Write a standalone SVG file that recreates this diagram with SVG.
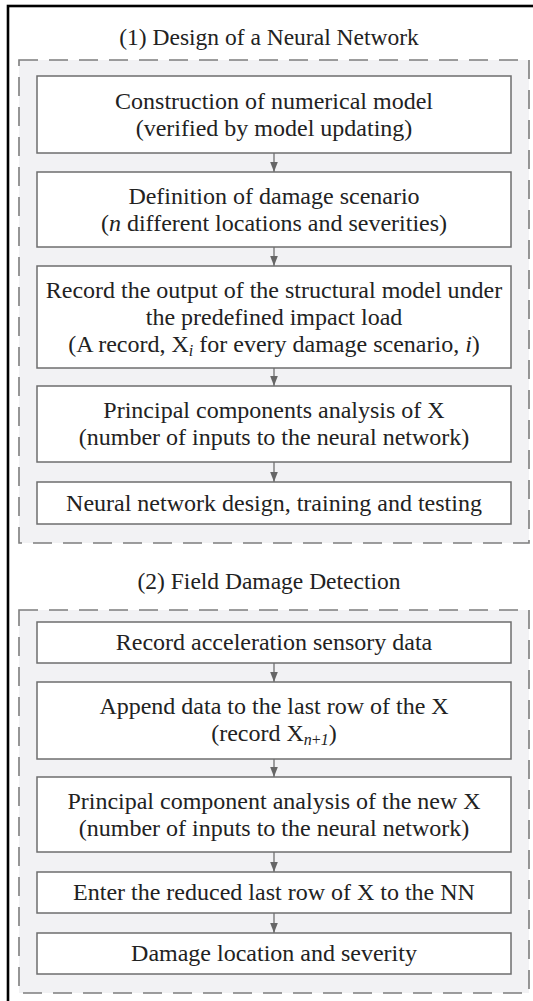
<svg xmlns="http://www.w3.org/2000/svg" width="533" height="1001" viewBox="0 0 533 1001">
<style>
.t{font-family:"Liberation Serif","Times New Roman",serif;font-size:24px;fill:#222;text-anchor:middle}
.ttl{font-size:23.5px}
.box{fill:#fff;stroke:#6e6e6e;stroke-width:1.5}
.grp{fill:#f2f2f4;stroke:#7d7d7d;stroke-width:1.6;stroke-dasharray:19 11}
.c{stroke:#666;stroke-width:1.2;fill:none;marker-end:url(#ah)}
.sub{font-size:16px}
</style>
<defs>
<marker id="ah" markerUnits="userSpaceOnUse" markerWidth="10" markerHeight="10" viewBox="0 0 10 10" refX="10" refY="5" orient="auto">
<path d="M0,1.2 L10,5 L0,8.8 Z" fill="#666"/>
</marker>
</defs>
<rect x="8" y="6" width="560" height="1020" fill="#fff" stroke="#000" stroke-width="2.6"/>
<g id="group1">
<text class="t ttl" x="269" y="45">(1) Design of a Neural Network</text>
<rect class="grp" x="19" y="60" width="510" height="483"/>
</g>
<g id="group2">
<text class="t ttl" x="269" y="589">(2) Field Damage Detection</text>
<rect class="grp" x="19" y="610" width="510" height="383"/>
</g>
<g id="connectors">
<line class="c" x1="274" y1="153" x2="274" y2="172"/>
<line class="c" x1="274" y1="247" x2="274" y2="266"/>
<line class="c" x1="274" y1="368" x2="274" y2="386"/>
<line class="c" x1="274" y1="462" x2="274" y2="482"/>
<line class="c" x1="274" y1="663" x2="274" y2="682"/>
<line class="c" x1="274" y1="759" x2="274" y2="777"/>
<line class="c" x1="274" y1="852" x2="274" y2="872"/>
<line class="c" x1="274" y1="913" x2="274" y2="933"/>
</g>
<g id="n1">
<rect class="box" x="37" y="76" width="474" height="77"/>
<text class="t" x="274" y="109">Construction of numerical model</text>
<text class="t" x="274" y="136">(verified by model updating)</text>
</g>
<g id="n2">
<rect class="box" x="37" y="172" width="474" height="75"/>
<text class="t" x="274" y="204">Definition of damage scenario</text>
<text class="t" x="274" y="231">(<tspan font-style="italic">n</tspan> different locations and severities)</text>
</g>
<g id="n3">
<rect class="box" x="37" y="266" width="474" height="102"/>
<text class="t" x="274" y="298">Record the output of the structural model under</text>
<text class="t" x="274" y="325">the predefined impact load</text>
<text class="t" x="274" y="352">(A record, X<tspan class="sub" font-style="italic" dy="4">i</tspan><tspan dy="-4"> for every damage scenario, </tspan><tspan font-style="italic">i</tspan>)</text>
</g>
<g id="n4">
<rect class="box" x="37" y="386" width="474" height="76"/>
<text class="t" x="274" y="418">Principal components analysis of X</text>
<text class="t" x="274" y="445">(number of inputs to the neural network)</text>
</g>
<g id="n5">
<rect class="box" x="37" y="482" width="474" height="42"/>
<text class="t" x="274" y="511">Neural network design, training and testing</text>
</g>
<g id="n6">
<rect class="box" x="37" y="622" width="474" height="41"/>
<text class="t" x="274" y="650">Record acceleration sensory data</text>
</g>
<g id="n7">
<rect class="box" x="37" y="682" width="474" height="77"/>
<text class="t" x="274" y="714">Append data to the last row of the X</text>
<text class="t" x="274" y="741">(record X<tspan class="sub" dy="4"><tspan font-style="italic">n</tspan>+<tspan font-style="italic">1</tspan></tspan><tspan dy="-4">)</tspan></text>
</g>
<g id="n8">
<rect class="box" x="37" y="777" width="474" height="75"/>
<text class="t" x="274" y="809">Principal component analysis of the new X</text>
<text class="t" x="274" y="836">(number of inputs to the neural network)</text>
</g>
<g id="n9">
<rect class="box" x="37" y="872" width="474" height="41"/>
<text class="t" x="274" y="900">Enter the reduced last row of X to the NN</text>
</g>
<g id="n10">
<rect class="box" x="37" y="933" width="474" height="41"/>
<text class="t" x="274" y="961">Damage location and severity</text>
</g>
</svg>
